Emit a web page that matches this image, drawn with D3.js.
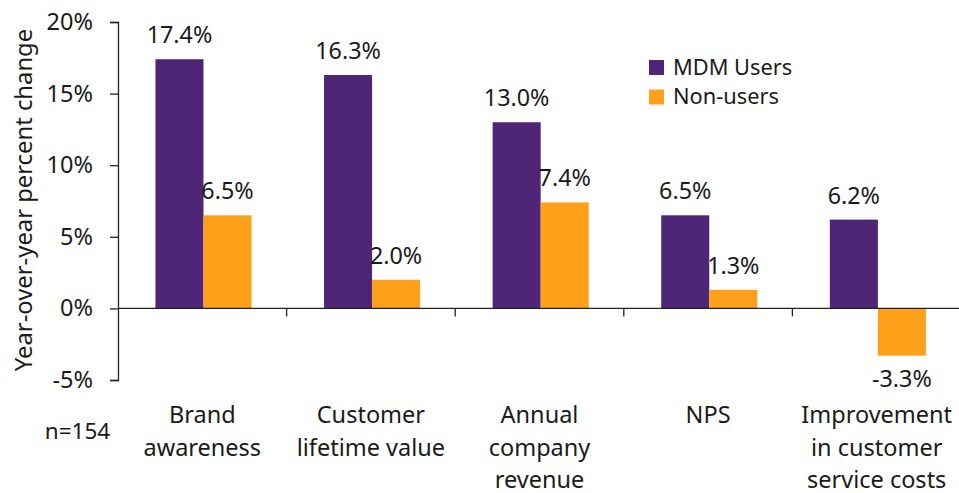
<!DOCTYPE html>
<html>
<head>
<meta charset="utf-8">
<script src="https://cdn.jsdelivr.net/npm/d3@7"></script>
<style>
  body { margin: 0; background: #fff; }
  text { font-family: "Noto Sans", sans-serif; fill: #1a1a1a; }
</style>
</head>
<body>
<svg id="chart" width="959" height="493"></svg>
<script>
// categories, each one is a list of label lines
var categories = [
  ["Brand", "awareness"],
  ["Customer", "lifetime value"],
  ["Annual", "company", "revenue"],
  ["NPS"],
  ["Improvement", "in customer", "service costs"]
];
var seriesNames = ["MDM Users", "Non-users"];
var mdmUsers = [17.4, 16.3, 13.0, 6.5, 6.2];
var nonUsers = [6.5, 2.0, 7.4, 1.3, -3.3];
var yTicks = [-5, 0, 5, 10, 15, 20];
var colors = ["#4f2577", "#ffa01a"];

var svg = d3.select("#chart"),
    plotLeft = 118, plotRight = 961, plotTop = 22, plotBottom = 380;

var x = d3.scaleBand()
    .domain(d3.range(categories.length))
    .range([plotLeft, plotRight]);

// two bars per group, roughly 96px wide in a 168px band
var x1 = d3.scaleBand()
    .domain([0, 1])
    .range([x.bandwidth()*0.222, x.bandwidth()*0.792]);

var y = d3.scaleLinear().domain([-5, 20]).range([plotBottom, plotTop]);

var rows = [];
categories.forEach(function(c, i){
  rows.push({cat: i, s: 0, v: mdmUsers[i]});
  rows.push({cat: i, s: 1, v: nonUsers[i]});
});

// bars
svg.append("g").selectAll("rect")
  .data(rows).enter().append("rect")
    .attr("x", function(d){ return x(d.cat) + x1(d.s); })
    .attr("width", x1.bandwidth())
    .attr("y", function(d){ return y(Math.max(0, d.v)); })
    .attr("height", function(d){ return Math.abs(y(d.v) - y(0)); })
    .attr("fill", function(d){ return colors[d.s]; });

// value labels
svg.append("g").selectAll("text")
  .data(rows).enter().append("text")
    .attr("x", function(d){ return x(d.cat) + x1(d.s) + x1.bandwidth()/2; })
    .attr("y", function(d){ return d.v >= 0 ? y(d.v) - 16 : y(d.v) + 31; })
    .attr("text-anchor", "middle")
    .style("font-size", "23.3px")
    .text(function(d){ return d.v.toFixed(1) + "%"; });

// y axis
var yAxis = svg.append("g")
  .attr("transform", "translate(" + plotLeft + ",0)")
  .call(d3.axisLeft(y).tickValues(yTicks).tickSize(8).tickPadding(17)
        .tickFormat(function(d){ return d + "%"; }));
yAxis.select(".domain").attr("stroke", "#222").attr("stroke-width", 1.3);
yAxis.selectAll(".tick line").attr("stroke", "#222").attr("stroke-width", 1.3);
yAxis.selectAll(".tick text").style("font-size", "23.5px")
  .style("font-family", "'Noto Sans', sans-serif").attr("fill", "#1a1a1a");

// x axis along zero
var xAxisG = svg.append("g");
xAxisG.append("line")
  .attr("x1", plotLeft).attr("x2", plotRight)
  .attr("y1", y(0)).attr("y2", y(0))
  .attr("stroke", "#222").attr("stroke-width", 1.3);
xAxisG.selectAll("line.tk")
  .data(d3.range(1, categories.length)).enter().append("line")
    .attr("class", "tk")
    .attr("x1", function(i){ return x(i); })
    .attr("x2", function(i){ return x(i); })
    .attr("y1", y(0)).attr("y2", y(0) + 8)
    .attr("stroke", "#222").attr("stroke-width", 1.3);

// category labels
var catG = svg.append("g").selectAll("text")
  .data(categories).enter().append("text")
    .attr("text-anchor", "middle")
    .attr("x", function(d, i){ return x(i) + x.bandwidth()/2; })
    .attr("y", 423)
    .style("font-size", "23.5px");
catG.selectAll("tspan")
  .data(function(d){ return d; }).enter().append("tspan")
    .attr("x", function(){ return d3.select(this.parentNode).attr("x"); })
    .attr("dy", function(d, i){ return i ? 32.5 : 0; })
    .text(function(d){ return d; });

// sample size
svg.append("text")
  .attr("x", 77.5).attr("y", 439)
  .attr("text-anchor", "middle")
  .style("font-size", "22.5px")
  .text("n=154");

// y axis title
svg.append("text")
  .attr("transform", "translate(32,200) rotate(-90)")
  .attr("text-anchor", "middle")
  .style("font-size", "23.8px")
  .text("Year-over-year percent change");

// legend
var legend = svg.append("g").selectAll("g")
  .data(seriesNames).enter().append("g")
    .attr("transform", function(d, i){ return "translate(649," + (60 + i*29.5) + ")"; });
legend.append("rect")
  .attr("width", 15).attr("height", 15)
  .attr("fill", function(d, i){ return colors[i]; });
legend.append("text")
  .attr("x", 24).attr("y", 14.5)
  .style("font-size", "21.8px")
  .text(function(d){ return d; });
</script>
</body>
</html>
